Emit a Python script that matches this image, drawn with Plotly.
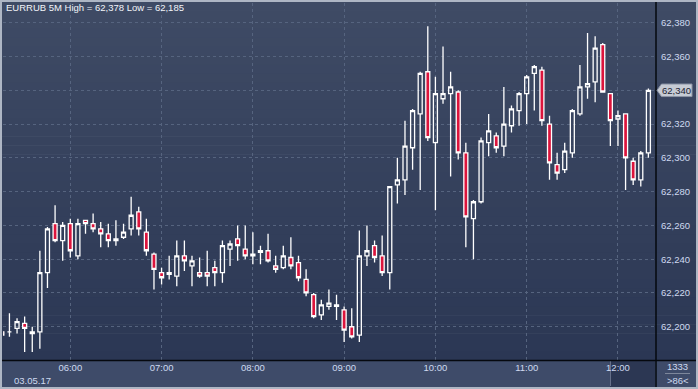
import plotly.graph_objects as go
import pandas as pd

# ---------------- data (EURRUB, 5-minute candles, 03.05.17) ----------------
times = pd.date_range("2017-05-03 05:15", periods=86, freq="5min")

open_ = [62.197, 62.197, 62.199, 62.202, 62.196, 62.197, 62.232, 62.261, 62.251, 62.261,
         62.242, 62.263, 62.261, 62.258, 62.255, 62.251, 62.253, 62.258, 62.268, 62.256,
         62.243, 62.232, 62.231, 62.230, 62.242, 62.236, 62.232, 62.232, 62.235, 62.232,
         62.246, 62.252, 62.246, 62.243, 62.244, 62.245, 62.236, 62.235, 62.241, 62.238,
         62.228, 62.219, 62.207, 62.212, 62.212, 62.210, 62.200, 62.195, 62.242, 62.248,
         62.242, 62.232, 62.284, 62.287, 62.306, 62.326, 62.351, 62.309, 62.335, 62.338,
         62.339, 62.303, 62.264, 62.274, 62.309, 62.313, 62.307, 62.319, 62.328, 62.338,
         62.350, 62.352, 62.320, 62.296, 62.293, 62.303, 62.326, 62.342, 62.345, 62.367,
         62.338, 62.323, 62.326, 62.298, 62.287, 62.303]
high = [62.198, 62.208, 62.205, 62.206, 62.200, 62.245, 62.259, 62.272, 62.262, 62.264,
        62.264, 62.263, 62.267, 62.262, 62.261, 62.263, 62.261, 62.277, 62.271, 62.264,
        62.244, 62.235, 62.242, 62.251, 62.251, 62.242, 62.241, 62.245, 62.239, 62.251,
        62.251, 62.260, 62.260, 62.256, 62.248, 62.255, 62.242, 62.248, 62.253, 62.242,
        62.234, 62.220, 62.216, 62.222, 62.219, 62.212, 62.211, 62.257, 62.260, 62.251,
        62.254, 62.283, 62.300, 62.322, 62.329, 62.351, 62.378, 62.348, 62.366, 62.351,
        62.340, 62.309, 62.275, 62.312, 62.326, 62.315, 62.342, 62.331, 62.339, 62.349,
        62.355, 62.354, 62.325, 62.303, 62.309, 62.329, 62.355, 62.374, 62.372, 62.368,
        62.338, 62.328, 62.326, 62.300, 62.304, 62.341]
low = [62.194, 62.194, 62.196, 62.185, 62.185, 62.187, 62.223, 62.250, 62.239, 62.241,
       62.240, 62.255, 62.256, 62.247, 62.247, 62.248, 62.252, 62.254, 62.254, 62.242,
       62.222, 62.225, 62.228, 62.224, 62.233, 62.224, 62.229, 62.224, 62.224, 62.226,
       62.236, 62.239, 62.240, 62.237, 62.237, 62.238, 62.232, 62.234, 62.234, 62.227,
       62.218, 62.205, 62.204, 62.210, 62.204, 62.191, 62.193, 62.191, 62.236, 62.238,
       62.230, 62.222, 62.273, 62.278, 62.293, 62.281, 62.310, 62.269, 62.332, 62.289,
       62.299, 62.247, 62.240, 62.273, 62.301, 62.303, 62.301, 62.315, 62.319, 62.320,
       62.328, 62.319, 62.287, 62.287, 62.291, 62.300, 62.325, 62.335, 62.333, 62.339,
       62.307, 62.307, 62.281, 62.284, 62.283, 62.300]
close = [62.195, 62.197, 62.203, 62.199, 62.197, 62.232, 62.258, 62.251, 62.260, 62.245,
         62.261, 62.261, 62.258, 62.255, 62.251, 62.252, 62.256, 62.266, 62.258, 62.245,
         62.234, 62.229, 62.232, 62.242, 62.239, 62.239, 62.230, 62.230, 62.232, 62.248,
         62.249, 62.248, 62.242, 62.242, 62.245, 62.239, 62.234, 62.242, 62.236, 62.229,
         62.220, 62.206, 62.213, 62.214, 62.213, 62.198, 62.194, 62.242, 62.245, 62.241,
         62.232, 62.283, 62.287, 62.307, 62.328, 62.350, 62.312, 62.338, 62.338, 62.342,
         62.303, 62.265, 62.274, 62.310, 62.316, 62.306, 62.320, 62.329, 62.338, 62.348,
         62.354, 62.322, 62.297, 62.291, 62.304, 62.328, 62.342, 62.344, 62.365, 62.339,
         62.322, 62.325, 62.300, 62.287, 62.303, 62.340]

hour_ticks = pd.date_range("2017-05-03 06:00", "2017-05-03 12:00", freq="h")
symbol = "EURRUB 5M"
date_label = "03.05.17"
footer_top = "1333"
footer_bottom = ">86<"

# ---------------- geometry helpers (pixel -> paper) ----------------
W, H = 698, 389
ML, MR, MT, MB = 3, 42, 3, 29
PW, PH = W - ML - MR, H - MT - MB


def px(x):
    return (x - ML) / PW


def py(y):
    return (H - MB - y) / PH


def fmt(v):
    return f"{v:.3f}".replace(".", ",")


TEXT = "#cfdaf0"
FONT = "Liberation Sans, Arial, sans-serif"

fig = go.Figure()
fig.add_trace(go.Candlestick(
    x=times, open=open_, high=high, low=low, close=close,
    increasing=dict(line=dict(color="#ffffff", width=1.3), fillcolor="rgba(0,0,0,0)"),
    decreasing=dict(line=dict(color="#ffffff", width=1.3), fillcolor="#dc143c"),
    whiskerwidth=0, hoverinfo="skip", showlegend=False,
))

shapes = []
# background gradient (plot + right axis area)
top_c = (63, 75, 101)
bot_c = (43, 55, 84)
n = 40
y_top, y_bot = 2, 360
for i in range(n):
    t = (i + 0.5) / n
    c = tuple(round(top_c[k] + (bot_c[k] - top_c[k]) * t) for k in range(3))
    ya = y_top + (y_bot - y_top) * i / n
    yb = y_top + (y_bot - y_top) * (i + 1) / n + 0.6
    shapes.append(dict(type="rect", xref="paper", yref="paper", layer="below",
                       x0=px(2), x1=px(696), y0=py(yb), y1=py(ya),
                       fillcolor="rgb(%d,%d,%d)" % c, line=dict(width=0)))
# bottom band
shapes.append(dict(type="rect", xref="paper", yref="paper", layer="below",
                   x0=px(2), x1=px(696), y0=py(387), y1=py(360),
                   fillcolor="#3e4b69", line=dict(width=0)))
# highlight in the time band
shapes.append(dict(type="rect", xref="paper", yref="paper", layer="below",
                   x0=px(610), x1=px(655), y0=py(387), y1=py(361),
                   fillcolor="#2c3753", line=dict(width=0)))
shapes.append(dict(type="line", xref="paper", yref="paper", layer="below",
                   x0=px(610.5), x1=px(610.5), y0=py(386), y1=py(361),
                   line=dict(color="#66708a", width=1)))
# black frame lines
shapes.append(dict(type="line", xref="paper", yref="paper",
                   x0=px(2), x1=px(696), y0=py(360.5), y1=py(360.5),
                   line=dict(color="#05080e", width=1.5)))
shapes.append(dict(type="line", xref="paper", yref="paper",
                   x0=px(656), x1=px(656), y0=py(387), y1=py(2),
                   line=dict(color="#05080e", width=1.5)))
# small separator in footer box
shapes.append(dict(type="line", xref="paper", yref="paper",
                   x0=px(665), x1=px(690), y0=py(373.5), y1=py(373.5),
                   line=dict(color="#7d879b", width=1)))
# last price tag (arrow box)
last = close[-1]
h = 0.0037
shapes.append(dict(type="path", xref="paper", yref="y",
                   path=f"M {px(657)},{last} L {px(661.5)},{last + h} L {px(692)},{last + h} "
                        f"L {px(692)},{last - h} L {px(661.5)},{last - h} Z",
                   fillcolor="#c6cbd4", line=dict(color="#8d95a6", width=1)))

annotations = [
    dict(text=f"{symbol} High = {fmt(max(high))} Low = {fmt(min(low))}",
         xref="paper", yref="paper", x=px(4), y=py(7.8), xanchor="left", yanchor="middle",
         showarrow=False, font=dict(family=FONT, size=9.5, color="#f2f4f8")),
    dict(text=date_label, xref="paper", yref="paper", x=px(32), y=py(380.5),
         xanchor="center", yanchor="middle", showarrow=False,
         font=dict(family=FONT, size=9.5, color=TEXT)),
    dict(text=footer_top, xref="paper", yref="paper", x=px(677.5), y=py(366.5),
         xanchor="center", yanchor="middle", showarrow=False,
         font=dict(family=FONT, size=9.5, color=TEXT)),
    dict(text=footer_bottom, xref="paper", yref="paper", x=px(677.5), y=py(380.5),
         xanchor="center", yanchor="middle", showarrow=False,
         font=dict(family=FONT, size=9.5, color=TEXT)),
    dict(text=fmt(last), xref="paper", yref="y", x=px(676.5), y=last,
         xanchor="center", yanchor="middle", showarrow=False,
         font=dict(family=FONT, size=9.5, color="#1b2232")),
]

GRID = "#56647f"
fig.update_layout(
    width=W, height=H,
    margin=dict(l=ML, r=MR, t=MT, b=MB, autoexpand=False),
    paper_bgcolor="#aeb6c4", plot_bgcolor="rgba(0,0,0,0)",
    separators=", ",
    boxgap=0.25,
    showlegend=False,
    shapes=shapes, annotations=annotations,
    font=dict(family=FONT, size=9.5, color=TEXT),
    xaxis=dict(type="date", range=["2017-05-03 05:15:46", "2017-05-03 12:25:00"],
               tickvals=list(hour_ticks), tickformat="%H:%M",
               showgrid=True, gridcolor=GRID, gridwidth=1, griddash="3px,3px",
               ticks="", showline=False, zeroline=False, fixedrange=True,
               tickfont=dict(family=FONT, size=9.5, color=TEXT),
               rangeslider=dict(visible=False)),
    yaxis=dict(side="right", range=[62.1803, 62.3917], tick0=62.2, dtick=0.02,
               tickformat=".3f", showgrid=True, gridcolor=GRID, gridwidth=1,
               griddash="3px,3px", ticks="", showline=False, zeroline=False,
               fixedrange=True, ticklabelstandoff=4,
               tickfont=dict(family=FONT, size=9.5, color=TEXT)),
)

fig.write_html("out.html", config={"displayModeBar": False},
               post_script="document.body.style.margin='0';document.body.style.overflow='hidden';")
